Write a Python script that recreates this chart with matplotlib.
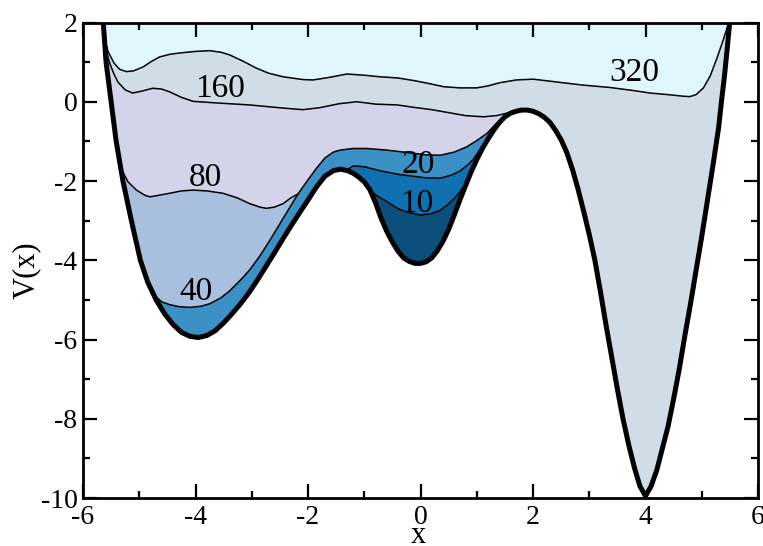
import numpy as np
import matplotlib
matplotlib.use("Agg")
import matplotlib.pyplot as plt
from matplotlib.ticker import MultipleLocator

plt.rcParams['font.family'] = ['Liberation Serif', 'DejaVu Serif']
plt.rcParams['axes.unicode_minus'] = False

# ---- potential V(x) (thick black curve) ----
v_x = [-5.64, -5.59, -5.50, -5.41, -5.29, -5.14, -4.98, -4.85, -4.70, -4.55, -4.40, -4.25,
       -4.10, -3.95, -3.80, -3.65, -3.50, -3.35, -3.20, -3.05, -2.90, -2.75, -2.60, -2.45,
       -2.30, -2.15, -2.00, -1.85, -1.70, -1.55, -1.42, -1.30, -1.20, -1.10, -1.00, -0.90,
       -0.80, -0.70, -0.60, -0.50, -0.40, -0.30, -0.20, -0.10, 0.00, 0.10, 0.20, 0.30,
       0.40, 0.50, 0.60, 0.70, 0.80, 0.90, 1.00, 1.10, 1.20, 1.30, 1.40, 1.50, 1.60,
       1.70, 1.80, 1.90, 2.00, 2.10, 2.20, 2.30, 2.40, 2.50, 2.60, 2.70, 2.80, 2.90,
       3.00, 3.10, 3.20, 3.30, 3.40, 3.50, 3.60, 3.70, 3.80, 3.90, 4.00, 4.10, 4.20,
       4.30, 4.40, 4.50, 4.60, 4.70, 4.80, 4.90, 5.00, 5.10, 5.20, 5.30, 5.35, 5.40,
       5.45, 5.50]
v_y = [2.00, 1.00, 0.00, -1.00, -2.00, -3.00, -4.00, -4.55, -5.00, -5.35, -5.62, -5.82,
       -5.92, -5.95, -5.90, -5.78, -5.58, -5.35, -5.10, -4.82, -4.50, -4.16, -3.82, -3.47,
       -3.13, -2.80, -2.48, -2.15, -1.88, -1.74, -1.70, -1.74, -1.80, -1.90, -2.02, -2.22,
       -2.55, -2.94, -3.27, -3.54, -3.77, -3.94, -4.03, -4.08, -4.08, -4.04, -3.94, -3.76,
       -3.52, -3.22, -2.86, -2.48, -2.12, -1.77, -1.46, -1.18, -0.94, -0.72, -0.53, -0.38,
       -0.29, -0.24, -0.21, -0.21, -0.24, -0.30, -0.39, -0.52, -0.72, -0.96, -1.28, -1.70,
       -2.20, -2.76, -3.35, -4.00, -4.80, -5.65, -6.45, -7.25, -8.00, -8.65, -9.22, -9.70,
       -9.95, -9.70, -9.30, -8.75, -8.20, -7.50, -6.75, -5.90, -5.10, -4.25, -3.40, -2.50,
       -1.60, -0.65, 0.00, 0.60, 1.30, 2.05]

# ---- filled-potential curves after n Gaussians ----
c320_x = [-5.62, -5.55, -5.45, -5.35, -5.23, -5.10, -4.93, -4.78, -4.64, -4.45, -4.22, -4.00,
          -3.75, -3.55, -3.39, -3.15, -2.92, -2.70, -2.44, -2.09, -1.91, -1.60, -1.31, -1.00,
          -0.72, -0.40, -0.10, 0.15, 0.41, 0.70, 1.00, 1.20, 1.41, 1.70, 2.00, 2.30, 2.59,
          2.89, 3.37, 3.80, 4.08, 4.40, 4.67, 4.79, 4.90, 5.03, 5.15, 5.27, 5.38, 5.47]
c320_y = [1.60, 1.25, 0.98, 0.82, 0.76, 0.78, 0.88, 1.02, 1.13, 1.20, 1.24, 1.27,
          1.29, 1.25, 1.18, 1.02, 0.85, 0.72, 0.63, 0.56, 0.55, 0.62, 0.70, 0.67,
          0.63, 0.60, 0.53, 0.46, 0.38, 0.35, 0.35, 0.40, 0.48, 0.55, 0.57, 0.52, 0.47,
          0.42, 0.36, 0.28, 0.22, 0.18, 0.14, 0.13, 0.18, 0.35, 0.65, 1.10, 1.55, 1.95]

c160_x = [-5.60, -5.52, -5.45, -5.38, -5.25, -5.12, -4.95, -4.76, -4.60, -4.46, -4.25, -4.04,
          -3.63, -3.04, -2.44, -2.09, -1.79, -1.45, -1.13, -0.80, -0.42, -0.07, 0.20, 0.52,
          0.80, 1.12, 1.35, 1.53, 1.70]
c160_y = [1.35, 0.95, 0.70, 0.50, 0.30, 0.22, 0.27, 0.34, 0.32, 0.25, 0.11, 0.01,
          -0.03, -0.08, -0.16, -0.20, -0.15, -0.05, 0.00, -0.06, -0.08, -0.15, -0.20, -0.28,
          -0.35, -0.38, -0.35, -0.29, -0.24]

c80_x = [-5.36, -5.30, -5.20, -5.05, -4.90, -4.81, -4.65, -4.46, -4.25, -4.04, -3.80, -3.51,
         -3.25, -3.04, -2.85, -2.74, -2.60, -2.44, -2.30, -2.18]
c80_y = [-1.50, -1.75, -2.02, -2.23, -2.36, -2.40, -2.36, -2.31, -2.25, -2.23, -2.25, -2.31,
         -2.43, -2.57, -2.66, -2.69, -2.66, -2.57, -2.42, -2.33]

c40_x = [-4.72, -4.60, -4.46, -4.30, -4.10, -3.90, -3.75, -3.55, -3.39, -3.20, -3.04, -2.85,
         -2.68, -2.50, -2.33, -2.18, -2.00, -1.85, -1.70, -1.55, -1.43, -1.20, -0.96, -0.60,
         -0.30, -0.13, 0.10, 0.35, 0.60, 0.82, 1.00, 1.18, 1.30, 1.38]
c40_y = [-4.90, -5.05, -5.12, -5.17, -5.19, -5.16, -5.10, -4.95, -4.77, -4.50, -4.25, -3.88,
         -3.50, -3.08, -2.68, -2.33, -1.97, -1.68, -1.42, -1.27, -1.22, -1.18, -1.18, -1.22,
         -1.27, -1.30, -1.34, -1.35, -1.27, -1.14, -0.98, -0.80, -0.62, -0.50]

c20_x = [-1.32, -1.20, -1.00, -0.72, -0.40, -0.13, 0.10, 0.35, 0.55, 0.70, 0.85, 0.94, 1.05, 1.18]
c20_y = [-1.74, -1.62, -1.64, -1.74, -1.83, -1.88, -1.92, -1.93, -1.85, -1.75, -1.58, -1.45,
         -1.22, -0.96]

c10_x = [-0.92, -0.80, -0.60, -0.40, -0.25, 0.00, 0.20, 0.35, 0.50, 0.64, 0.78, 0.88]
c10_y = [-2.18, -2.35, -2.52, -2.70, -2.78, -2.86, -2.82, -2.74, -2.58, -2.38, -2.12, -1.88]

labels = ['10', '20', '40', '80', '160', '320']
label_x = [-0.07, -0.04, -3.99, -3.82, -3.57, 3.80]
label_y = [-2.57, -1.60, -4.80, -1.92, 0.32, 0.74]

top_color = '#dff7fc'
band_colors = {'320': '#d0dde6', '160': '#d3d3e9', '80': '#a9bfde',
               '40': '#3b91c5', '20': '#0f71b0', '10': '#0b4f7d'}

fig = plt.figure(figsize=(7.63, 5.46), dpi=100)
ax = fig.add_axes([83 / 763, 48 / 546, 675 / 763, 475.5 / 546])

vx = np.array(v_x)
vy = np.array(v_y)

# region above V up to the top of the frame
ax.fill_between(vx, vy, 2.0, color=top_color, lw=0, zorder=1)

curves = [('320', c320_x, c320_y), ('160', c160_x, c160_y), ('80', c80_x, c80_y),
          ('40', c40_x, c40_y), ('20', c20_x, c20_y), ('10', c10_x, c10_y)]
for z, (name, cx, cy) in enumerate(curves):
    cx = np.array(cx)
    cy = np.array(cy)
    m = (vx > cx[0]) & (vx < cx[-1])
    px = np.concatenate([cx, vx[m][::-1]])
    py = np.concatenate([cy, vy[m][::-1]])
    ax.fill(px, py, color=band_colors[name], lw=0, zorder=2 + z)

for name, cx, cy in curves:
    ax.plot(cx, cy, color='black', lw=1.1, zorder=10)

ax.plot(vx, vy, color='black', lw=3.6, zorder=11, solid_capstyle='round')

for t, lx, ly in zip(labels, label_x, label_y):
    ax.text(lx, ly, t, fontsize=24, ha='center', va='center', zorder=12)

ax.set_xlim(-6, 6)
ax.set_ylim(-10, 2)
ax.xaxis.set_major_locator(MultipleLocator(2))
ax.xaxis.set_minor_locator(MultipleLocator(1))
ax.yaxis.set_major_locator(MultipleLocator(2))
ax.yaxis.set_minor_locator(MultipleLocator(1))
ax.tick_params(which='both', direction='in', top=True, right=True, width=1.6)
ax.tick_params(which='major', length=10, labelsize=20, pad=5)
ax.tick_params(which='minor', length=5)
ax.tick_params(axis='y', which='major', pad=4)
for s in ax.spines.values():
    s.set_linewidth(2.0)
    s.set_zorder(13)

ax.set_xlabel('x', fontsize=22)
ax.xaxis.label.set_va('baseline')
ax.xaxis.set_label_coords(0.497, -(543 - 498) / 475.5)
ax.set_ylabel('V(x)', fontsize=22)
ax.yaxis.set_label_coords(-0.062, 0.48)

fig.savefig('out.png', dpi=100)
